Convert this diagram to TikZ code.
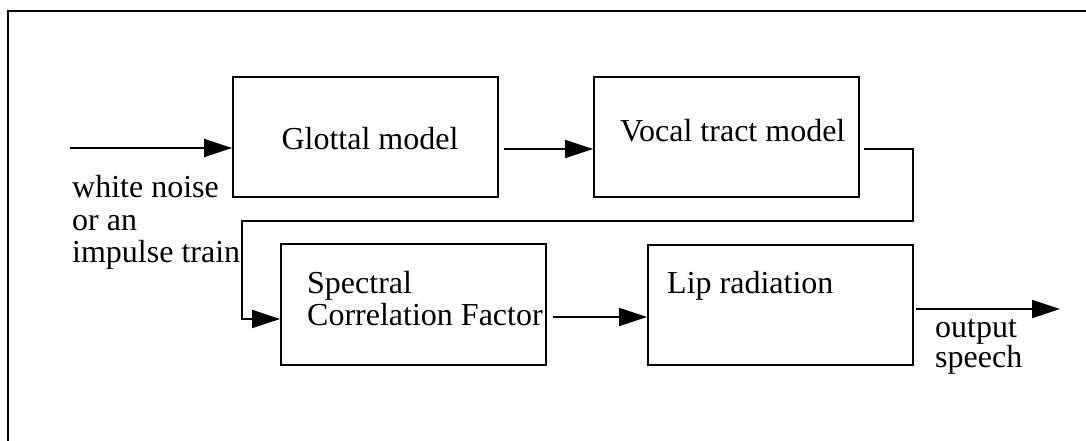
\documentclass[tikz,border=0pt]{standalone}
\usepackage{fontspec}
\setmainfont{Liberation Serif}
\usetikzlibrary{arrows.meta}
\begin{document}
\begin{tikzpicture}[x=1pt,y=-1pt,
  blk/.style={draw, line width=1.8pt, minimum width=265pt, minimum height=120pt, inner sep=0pt},
  txt/.style={anchor=base west, inner sep=0pt, font=\fontsize{32pt}{32pt}\selectfont},
  ctxt/.style={anchor=base, inner sep=0pt, font=\fontsize{32pt}{32pt}\selectfont},
  arr/.style={line width=1.8pt, -{Triangle[length=28pt,width=18pt]}},
  ln/.style={line width=1.8pt}]
\useasboundingbox (0,0) rectangle (1086,441);
% frame
\coordinate (ftr) at (1086,11);
\coordinate (ftl) at (8,11);
\coordinate (fbl) at (8,441);
\draw[line width=1.8pt] (ftr) -- (ftl) -- (fbl);
% blocks
\node[blk] (glot) at (365.5,137) {};
\node[blk] (voc) at (726.5,137) {};
\node[blk, minimum height=121pt] (spec) at (413.5,304.5) {};
\node[blk] (lip) at (780.5,305) {};
% block texts
\node[ctxt] (tglot) at (370,149) {Glottal model};
\node[txt] (tvoc) at (620,142) {Vocal tract model};
\node[txt] (tspec1) at (307,293) {Spectral};
\node[txt] (tspec2) at (307,325) {Correlation Factor};
\node[txt] (tlip) at (667,293) {Lip radiation};
% side labels
\node[txt] (w1) at (72,197) {white noise};
\node[txt] (w2) at (72,230) {or an};
\node[txt] (w3) at (72,262) {impulse train};
\node[txt] (o1) at (935,337) {output};
\node[txt] (o2) at (935,367) {speech};
% connectors
\coordinate (in) at (70,148);
\draw[arr] (in) -- (in -| glot.west);
\draw[arr] ([xshift=5pt,yshift=-12pt]glot.east) -- ([yshift=-12pt]voc.west);
\coordinate (c1) at (913,149);
\coordinate (c2) at (913,221);
\coordinate (c3) at (242,221);
\coordinate (c4) at (242,319);
\draw[arr] ([xshift=4pt,yshift=-12pt]voc.east) -- (c1) -- (c2) -- (c3) -- (c4) -- ([yshift=-14.5pt]spec.west);
\draw[arr] ([xshift=6pt,yshift=-12.5pt]spec.east) -- ([yshift=-12pt]lip.west);
\coordinate (out) at (1060,309);
\draw[arr] ([xshift=2pt,yshift=-4pt]lip.east) -- (out);
\end{tikzpicture}
\end{document}
